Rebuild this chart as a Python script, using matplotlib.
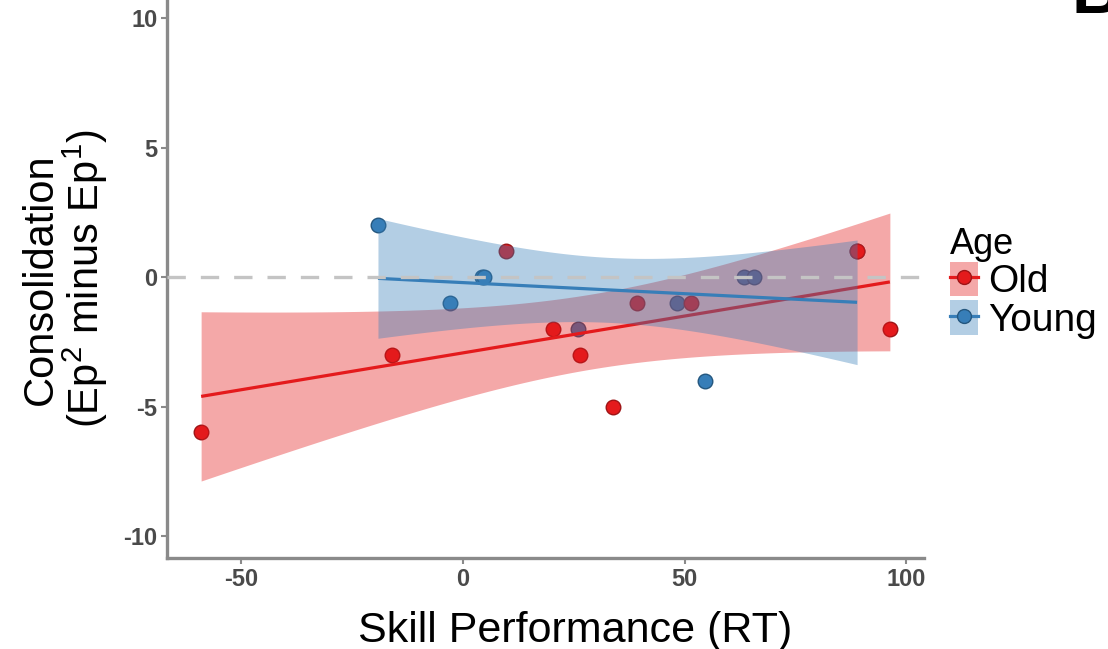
import math
import numpy as np
import matplotlib
matplotlib.use("Agg")
import matplotlib.pyplot as plt
from matplotlib.patches import Patch
from matplotlib.lines import Line2D

plt.rcParams['font.family'] = ['Liberation Sans', 'DejaVu Sans']
plt.rcParams['mathtext.fontset'] = 'custom'
plt.rcParams['mathtext.rm'] = 'Liberation Sans'
plt.rcParams['mathtext.it'] = 'Liberation Sans:italic'
plt.rcParams['mathtext.bf'] = 'Liberation Sans:bold'

# ---------------- data ----------------
groups = ["Old", "Young"]
old_rt = [-59.1, -16.0, 9.7, 20.3, 26.4, 33.8, 39.3, 51.4, 88.9, 96.3]
old_cons = [-6, -3, 1, -2, -3, -5, -1, -1, 1, -2]
young_rt = [-19.2, -2.9, 4.3, 4.7, 26.0, 48.3, 54.6, 63.4, 65.6, 88.9]
young_cons = [2, -1, 0, 0, -2, -1, -4, 0, 0, 1]
xticks = [-50, 0, 50, 100]
yticks = [-10, -5, 0, 5, 10]
colors = {"Old": "#E41A1C", "Young": "#377EB8"}
edges = {"Old": "#9E1416", "Young": "#24577F"}
data = {"Old": (old_rt, old_cons), "Young": (young_rt, young_cons)}


def t_ppf(p, df):
    c = math.gamma((df + 1) / 2) / (math.sqrt(df * math.pi) * math.gamma(df / 2))

    def cdf(t):
        xs = np.linspace(0, t, 4001)
        ys = c * (1 + xs ** 2 / df) ** (-(df + 1) / 2)
        return 0.5 + np.trapezoid(ys, xs)

    lo, hi = 0.0, 20.0
    for _ in range(60):
        mid = (lo + hi) / 2
        if cdf(mid) < p:
            lo = mid
        else:
            hi = mid
    return (lo + hi) / 2


def smooth(x, y):
    x = np.asarray(x, float)
    y = np.asarray(y, float)
    n = len(x)
    xm, ym = x.mean(), y.mean()
    sxx = ((x - xm) ** 2).sum()
    b = ((x - xm) * (y - ym)).sum() / sxx
    a = ym - b * xm
    res = y - (a + b * x)
    s = math.sqrt((res ** 2).sum() / (n - 2))
    t = t_ppf(0.975, n - 2)
    xg = np.linspace(x.min(), x.max(), 80)
    yg = a + b * xg
    se = s * np.sqrt(1 / n + (xg - xm) ** 2 / sxx)
    return xg, yg, yg - t * se, yg + t * se


fig = plt.figure(figsize=(11.08, 6.49), dpi=100)
ax = fig.add_axes([167 / 1108, (649 - 558) / 649, (924 - 167) / 1108, 558 / 649])

# points (drawn first, covered by ribbons like ggplot)
for g, z in (("Young", 2.0), ("Old", 2.1)):
    xs, ys = data[g]
    ax.scatter(xs, ys, s=110, color=colors[g], edgecolor=edges[g],
               linewidth=1.0, zorder=z)

# regression ribbons + lines
zb = 3.0
for g in ("Old", "Young"):
    xs, ys = data[g]
    xg, yg, lo, hi = smooth(xs, ys)
    ax.fill_between(xg, lo, hi, color=colors[g], alpha=0.38, linewidth=0, zorder=zb)
    ax.plot(xg, yg, color=colors[g], lw=2.3, zorder=zb + 0.1, solid_capstyle='butt')
    zb += 0.2

ax.axhline(0, color='#C4C4C4', lw=2.4, dashes=(5.5, 4.5), zorder=5)

ax.set_xlim(-66.8, 104.0)
ax.set_ylim(-10.85, 10.7)
ax.set_xticks(xticks)
ax.set_yticks(yticks)
ax.set_xticklabels([str(v) for v in xticks])
ax.set_yticklabels([str(v) for v in yticks])

for side in ("top", "right"):
    ax.spines[side].set_visible(False)
for side in ("left", "bottom"):
    ax.spines[side].set_color('#8A8A8A')
    ax.spines[side].set_linewidth(2.4)
ax.tick_params(axis='both', colors='#8A8A8A', length=4, width=1.5,
               labelcolor='#4A4A4A', labelsize=17, pad=3)
for lab in ax.get_xticklabels() + ax.get_yticklabels():
    lab.set_fontweight('bold')

ax.set_xlabel("Skill Performance (RT)", fontsize=31, color='black')
ax.xaxis.set_label_coords((575 - 167) / 757, -0.095)
ax.set_ylabel("Consolidation\n(Ep$^2$ minus Ep$^1$)", fontsize=30, color='black',
              linespacing=1.0)
ax.yaxis.set_label_coords(-0.075, 0.5)

handles = []
for g in groups:
    p = Patch(facecolor=colors[g], alpha=0.38, edgecolor='none')
    l = Line2D([], [], color=colors[g], lw=2.3, marker='o', markersize=10,
               markerfacecolor=colors[g], markeredgecolor=edges[g])
    handles.append((p, l))
leg = fig.legend(handles, groups, title="Age", loc='upper left',
                 bbox_to_anchor=(950 / 1108, 1 - 227 / 649), frameon=False,
                 fontsize=28, title_fontsize=26, handlelength=0.72,
                 handleheight=0.98, labelspacing=0.0, handletextpad=0.25,
                 borderaxespad=0, borderpad=0, alignment='left')

fig.text(1072 / 1108, 1 - 13 / 649, "B", fontsize=48, fontweight='bold',
         ha='left', va='baseline', color='black')

fig.savefig("out.png", dpi=100)
